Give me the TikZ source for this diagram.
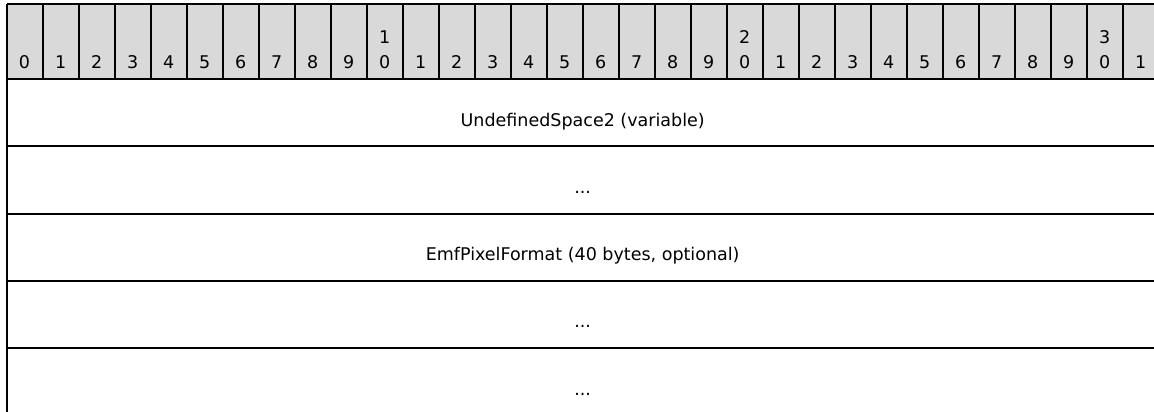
\documentclass[tikz,border=0pt]{standalone}
\usepackage{fontspec}
\setmainfont{DejaVu Sans}
\definecolor{rulergray}{HTML}{D9D9D9}
\begin{document}
\begin{tikzpicture}[x=1pt,y=-1pt,line width=2pt,
  bitlbl/.style={anchor=base west,inner sep=0pt,font=\fontsize{17.5}{21}\selectfont},
  fieldlbl/.style={anchor=base,inner sep=0pt,font=\fontsize{17.5}{21}\selectfont}]
\useasboundingbox (0,0) rectangle (1154,412);
% ruler
\fill[rulergray] (6.7,4) rectangle (1158.7,79);
\draw (6.7,4) -- (1158.7,4);
\draw (6.7,79) -- (1158.7,79);
\foreach \i in {0,...,32} \draw (6.7+36*\i,4) -- (6.7+36*\i,79);
\foreach \i in {0,...,31}{
  \pgfmathtruncatemacro{\u}{mod(\i,10)}
  \node[bitlbl] (bu\i) at (18+36*\i,69) {\u};
}
\foreach \i/\t in {10/1,20/2,30/3}
  \node[bitlbl] (bt\i) at (18+36*\i,44) {\t};
% rows
\foreach \k in {0,...,5}
  \draw (6.7,79+67.3*\k) -- (1158.7,79+67.3*\k);
\draw (6.7,79) -- (6.7,420);
\draw (1158.7,79) -- (1158.7,420);
\node[fieldlbl] (f1) at (582.7,126) {UndefinedSpace2 (variable)};
\node[fieldlbl] (f2) at (582.7,193.3) {...};
\node[fieldlbl] (f3) at (582.7,260.6) {EmfPixelFormat (40 bytes, optional)};
\node[fieldlbl] (f4) at (582.7,327.9) {...};
\node[fieldlbl] (f5) at (582.7,395.2) {...};
\end{tikzpicture}
\end{document}
